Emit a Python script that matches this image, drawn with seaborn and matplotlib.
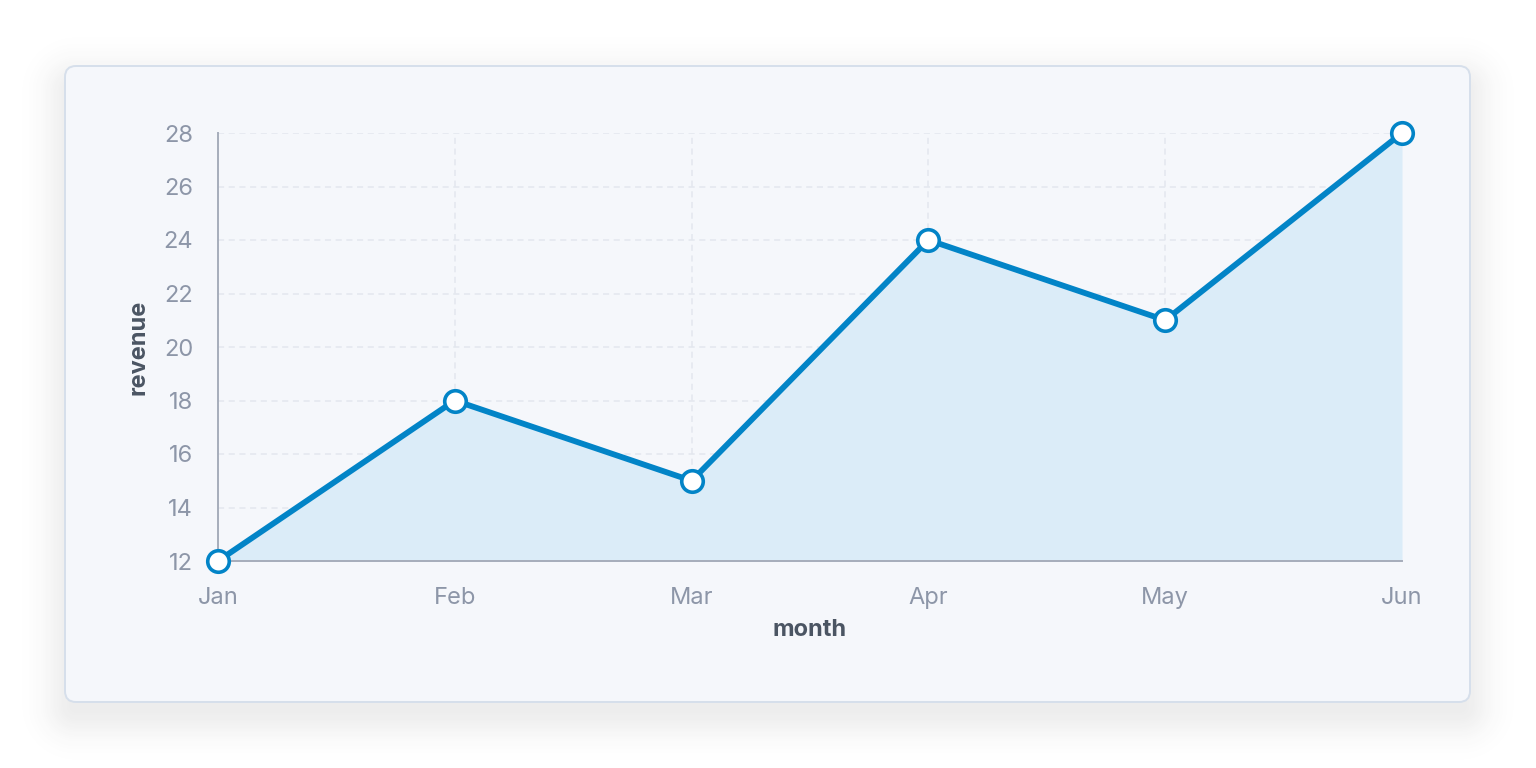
import matplotlib
matplotlib.use("Agg")
import matplotlib.pyplot as plt
from matplotlib.patches import FancyBboxPatch
import seaborn as sns
import numpy as np
import pandas as pd

# data
months = ["Jan", "Feb", "Mar", "Apr", "May", "Jun"]
revenue = [12, 18, 15, 24, 21, 28]
yticks = [12, 14, 16, 18, 20, 22, 24, 26, 28]

df = pd.DataFrame({"month": months, "revenue": revenue})
df["pos"] = range(len(months))

sns.set_style("white")
plt.rcParams["font.family"] = ["Inter", "DejaVu Sans"]

line_col = "#0284c7"
tick_col = "#8d96a8"
label_col = "#4b5563"
grid_col = "#e3e7ee"
spine_col = "#a6adbb"
card_bg = "#f5f7fb"

fig = plt.figure(figsize=(15.36, 7.68), dpi=100)
fig.patch.set_facecolor("white")

# soft card shadow as an image, then the card (figure pixel coords, top-down)
W, H = 1536, 768
cx0, cy0, cx1, cy1 = 65, 66, 1470, 702
yy, xx = np.mgrid[0:H, 0:W]
off = 14
dx = np.maximum(np.maximum(cx0 + 10 - xx, xx - (cx1 - 10)), 0)
dy = np.maximum(np.maximum(cy0 + off + 10 - yy, yy - (cy1 + off - 10)), 0)
dist = np.hypot(dx, dy)
shadow = np.zeros((H, W, 4))
shadow[..., :3] = 0.2
shadow[..., 3] = 0.09 * np.exp(-(dist / 30.0) ** 2)
fig.figimage(shadow, 0, 0, origin="upper", zorder=0)

card = FancyBboxPatch((cx0 / W, 1 - cy1 / H), (cx1 - cx0) / W, (cy1 - cy0) / H,
                      boxstyle="round,pad=0,rounding_size=%f" % (11 / W),
                      mutation_aspect=W / H,
                      transform=fig.transFigure, facecolor=card_bg,
                      edgecolor="#d6dfeb", linewidth=1.4, zorder=1)
fig.patches.append(card)

ax = fig.add_axes([218 / W, 1 - 561 / H, (1402 - 218) / W, (561 - 133) / H])
ax.set_facecolor("none")
ax.set_zorder(2)

ax.fill_between(df["pos"], df["revenue"], 12, color="#dbecf8", zorder=1, linewidth=0)
sns.lineplot(data=df, x="pos", y="revenue", ax=ax, color=line_col, linewidth=4.2,
             marker="o", markersize=15.5, markerfacecolor="white",
             markeredgecolor=line_col, markeredgewidth=2.6, zorder=5, clip_on=False)

ax.set_xlim(0, len(months) - 1)
ax.set_ylim(12, 28)
ax.set_xticks(df["pos"])
ax.set_xticklabels(months)
ax.set_yticks(yticks)

ax.grid(True, color=grid_col, linestyle=(0, (4, 3)), linewidth=1.1, zorder=0)
ax.set_axisbelow(True)

for s in ["top", "right"]:
    ax.spines[s].set_visible(False)
for s in ["left", "bottom"]:
    ax.spines[s].set_color(spine_col)
    ax.spines[s].set_linewidth(1.4)

ax.tick_params(axis="both", length=0, labelsize=17, labelcolor=tick_col)
ax.tick_params(axis="x", pad=19)
ax.tick_params(axis="y", pad=18)

ax.set_xlabel("month", fontsize=17, fontweight="bold", color=label_col, labelpad=7)
ax.set_ylabel("revenue", fontsize=17, fontweight="bold", color=label_col, labelpad=10)

fig.savefig("out.png", dpi=100, facecolor=fig.get_facecolor())
